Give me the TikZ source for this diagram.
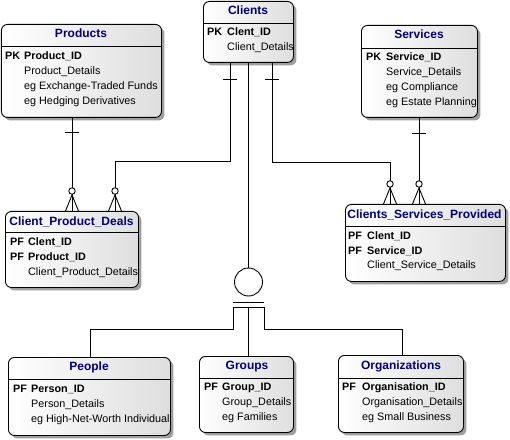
\documentclass[tikz,border=0pt]{standalone}
\usepackage{fontspec}
\setmainfont{Liberation Sans}
\usetikzlibrary{shadows}
\definecolor{navy}{RGB}{0,0,128}
\definecolor{boxgray}{RGB}{222,222,222}
\tikzset{
 ent/.style={draw=black, line width=0.9bp, rounded corners=6bp, anchor=north west, inner sep=0,
   left color=white, right color=boxgray,
   drop shadow={shadow xshift=3bp, shadow yshift=-3bp, fill=gray!75, opacity=1}},
 sep/.style={line width=0.9bp},
 ttl/.style={font=\bfseries\fontsize{12bp}{14bp}\selectfont, text=navy, inner sep=0, anchor=mid},
 key/.style={font=\bfseries\fontsize{10.8bp}{12bp}\selectfont, anchor=mid west, inner sep=0},
 att/.style={font=\fontsize{10.8bp}{12bp}\selectfont, anchor=mid west, inner sep=0},
 conn/.style={line width=0.9bp},
}
\newcommand\zmany[2]{% x, node
  \draw[conn] (#1,0 |- #2.north) ++(-6.5,0) -- ++(6.5,-16) -- ++(6.5,16);
  \draw[conn, fill=white] (#1,0 |- #2.north) ++(0,-20) circle (3.2bp);
}
\newcommand\onebar[2]{% x, y
  \draw[conn] (#1,#2) ++(-7,0) -- ++(14,0);
}
\begin{document}
\begin{tikzpicture}[x=1bp, y=-1bp]
\useasboundingbox (0,0) rectangle (510,440);

% ---------- entities ----------
\node[ent, minimum width=160bp, minimum height=93bp] (prod) at (1,24) {};
\draw[sep] (prod.west |- 0,46) -- (prod.east |- 0,46);
\node[ttl] (prodT) at (81,35) {Products};
\node[key] (prodK) at (5,57) {PK};
\node[key] (prodA) at (24,57) {Product\_ID};
\node[att] (prodB) at (24,72) {Product\_Details};
\node[att] (prodC) at (24,87) {eg Exchange-Traded Funds};
\node[att] (prodD) at (24,102) {eg Hedging Derivatives};

\node[ent, minimum width=90bp, minimum height=61bp] (cli) at (203,1) {};
\draw[sep] (cli.west |- 0,23) -- (cli.east |- 0,23);
\node[ttl] (cliT) at (248,11.5) {Clients};
\node[key] (cliK) at (207,33) {PK};
\node[key] (cliA) at (227,33) {Clent\_ID};
\node[att] (cliB) at (227,48) {Client\_Details};

\node[ent, minimum width=116bp, minimum height=92bp] (srv) at (361,25) {};
\draw[sep] (srv.west |- 0,48) -- (srv.east |- 0,48);
\node[ttl] (srvT) at (419,36) {Services};
\node[key] (srvK) at (366,58) {PK};
\node[key] (srvA) at (386,58) {Service\_ID};
\node[att] (srvB) at (386,73) {Service\_Details};
\node[att] (srvC) at (386,88) {eg Compliance};
\node[att] (srvD) at (386,103) {eg Estate Planning};

\node[ent, minimum width=133bp, minimum height=76bp] (cpd) at (5,211) {};
\draw[sep] (cpd.west |- 0,232) -- (cpd.east |- 0,232);
\node[ttl] (cpdT) at (71.5,222.5) {Client\_Product\_Deals};
\node[key] (cpdK1) at (10,243) {PF};
\node[key] (cpdA) at (28,243) {Clent\_ID};
\node[key] (cpdK2) at (10,258) {PF};
\node[key] (cpdB) at (28,258) {Product\_ID};
\node[att] (cpdC) at (28,273) {Client\_Product\_Details};

\node[ent, minimum width=160bp, minimum height=77bp] (csp) at (345,204) {};
\draw[sep] (csp.west |- 0,226) -- (csp.east |- 0,226);
\node[ttl] (cspT) at (424.5,215.5) {Clients\_Services\_Provided};
\node[key] (cspK1) at (348,237) {PF};
\node[key] (cspA) at (367,237) {Clent\_ID};
\node[key] (cspK2) at (348,252) {PF};
\node[key] (cspB) at (367,252) {Service\_ID};
\node[att] (cspC) at (367,266) {Client\_Service\_Details};

\node[ent, minimum width=162bp, minimum height=78bp] (ppl) at (8,357) {};
\draw[sep] (ppl.west |- 0,379) -- (ppl.east |- 0,379);
\node[ttl] (pplT) at (89,368) {People};
\node[key] (pplK) at (13,390) {PF};
\node[key] (pplA) at (31,390) {Person\_ID};
\node[att] (pplB) at (31,405) {Person\_Details};
\node[att] (pplC) at (31,420) {eg High-Net-Worth Individual};

\node[ent, minimum width=94bp, minimum height=76bp] (grp) at (199,356) {};
\draw[sep] (grp.west |- 0,378) -- (grp.east |- 0,378);
\node[ttl] (grpT) at (247,367) {Groups};
\node[key] (grpK) at (204,388) {PF};
\node[key] (grpA) at (222,388) {Group\_ID};
\node[att] (grpB) at (222,403) {Group\_Details};
\node[att] (grpC) at (222,418) {eg Families};

\node[ent, minimum width=125bp, minimum height=77bp] (org) at (338,355) {};
\draw[sep] (org.west |- 0,378) -- (org.east |- 0,378);
\node[ttl] (orgT) at (401,367) {Organizations};
\node[key] (orgK) at (342,388) {PF};
\node[key] (orgA) at (362,388) {Organisation\_ID};
\node[att] (orgB) at (362,403) {Organisation\_Details};
\node[att] (orgC) at (362,418) {eg Small Business};

% ---------- relationships ----------
% Products -> Client_Product_Deals
\draw[conn] (72,0 |- prod.south) -- (72,0 |- cpd.north);
\onebar{72}{132}
\zmany{72}{cpd}
% Clients -> Client_Product_Deals
\draw[conn] (230,0 |- cli.south) |- (115,161) -- (115,0 |- cpd.north);
\onebar{230}{79}
\zmany{115}{cpd}
% Clients -> Clients_Services_Provided
\draw[conn] (272,0 |- cli.south) |- (390,162) -- (390,0 |- csp.north);
\onebar{272}{79}
\zmany{390}{csp}
% Services -> Clients_Services_Provided
\draw[conn] (419,0 |- srv.south) -- (419,0 |- csp.north);
\onebar{419}{133}
\zmany{419}{csp}

% ---------- subtype ----------
\node[draw, circle, conn, minimum size=28bp, inner sep=0, fill=white] (sub) at (248.5,282) {};
\draw[conn] (248.5,0 |- cli.south) -- (sub.north);
\coordinate (barL) at (233,302);
\coordinate (barR) at (264,302);
\coordinate (bar2L) at (233,307);
\coordinate (bar2R) at (264,307);
\draw[conn] (barL) -- (barR);
\draw[conn] (bar2L) -- (bar2R);
\draw[conn] (bar2L) |- (90,329) -- (90,0 |- ppl.north);
\draw[conn] (bar2R) |- (402,329) -- (402,0 |- org.north);
\draw[conn] (248.5,307) -- (248.5,0 |- grp.north);
\end{tikzpicture}
\end{document}
